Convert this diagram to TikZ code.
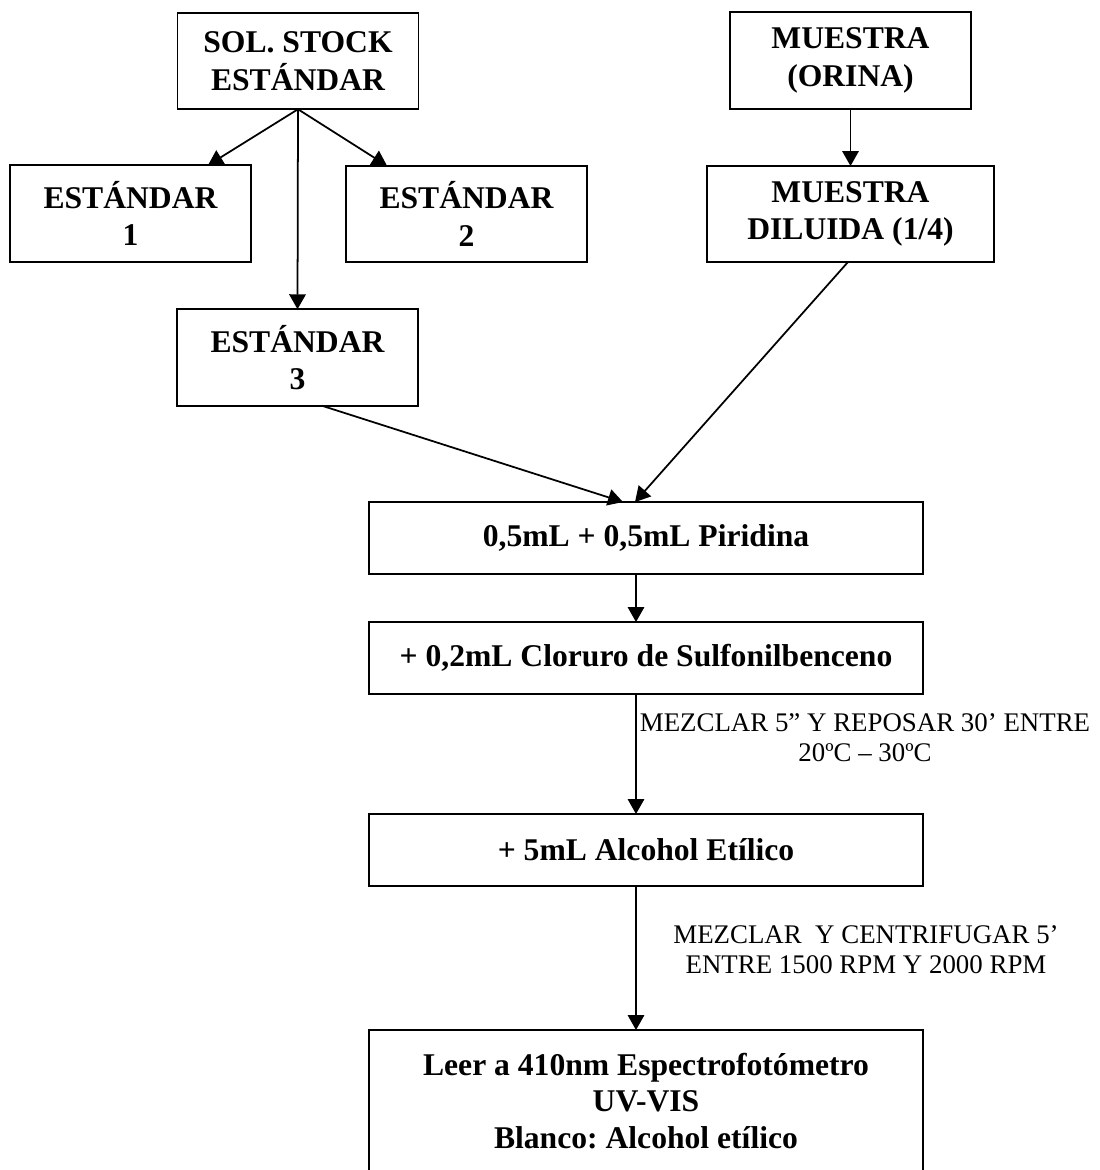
\documentclass[tikz,border=0pt]{standalone}
\usepackage{fontspec}
\setmainfont{Liberation Serif}
\usetikzlibrary{arrows.meta,positioning}
\frenchspacing

\begin{document}
\begin{tikzpicture}[x=0.02cm,y=-0.02cm,every node/.style={outer sep=0pt},line width=1pt,
 caja/.style={draw,line width=0.9pt,align=center,inner sep=0pt,
 font=\bfseries\fontsize{18}{21.5}\selectfont},
 cajaest/.style={caja,minimum width=4.82cm,minimum height=1.93cm},
 cajaproc/.style={caja,minimum width=11.08cm,minimum height=1.44cm},
 flecha/.style={-{Triangle[length=0.3cm,width=0.33cm]}},
 nota/.style={align=center,inner sep=0pt,font=\fontsize{15.3}{17}\selectfont}]

 \clip (0,0) rectangle (1099,1170);
 \fill[white] (0,0) rectangle (1099,1170);

  \node[cajaest] (stock) at (298,61) {SOL. STOCK\\ESTÁNDAR};
  \node[cajaest] (est1) at (130.5,213.5) {ESTÁNDAR\\1};
  \node[cajaest] (est2) at (466.5,214) {ESTÁNDAR\\2};
  \node[cajaest] (est3) at (297.5,357.5) {ESTÁNDAR\\3};

  \node[cajaest] (orina) at (850.5,60.5) {MUESTRA\\(ORINA)};
  \node[caja,minimum width=5.74cm,minimum height=1.92cm] (diluida) at (850.5,214) {MUESTRA\\DILUIDA (1/4)};

  \node[cajaproc] (piridina) at (646,538) {0,5mL + 0,5mL Piridina};
  \node[cajaproc] (cloruro) at (646,658) {+ 0,2mL Cloruro de Sulfonilbenceno};
  \node[cajaproc] (alcohol) at (646,850) {+ 5mL Alcohol Etílico};
  \node[caja,minimum width=11.08cm,minimum height=2.84cm,font=\bfseries\fontsize{18}{20.7}\selectfont] (leer) at (646,1101)
   {Leer a 410nm Espectrofotómetro\\UV-VIS\\Blanco: Alcohol etílico};


\draw [flecha] (stock.south) -- ([xshift=1.55cm]est1.north);
\draw [flecha] (stock.south) -- ([xshift=-1.59cm]est2.north);
\draw [flecha] (stock.south) -- (est3.north);
\draw [flecha] (orina.south) -- (diluida.north);

\draw [flecha] ([xshift=0.49cm]est3.south) -- ([xshift=-0.46cm]piridina.north);
\draw [flecha] ([xshift=-0.05cm]diluida.south) -- ([xshift=-0.22cm]piridina.north);

\draw [flecha] ([xshift=-0.2cm]piridina.south) -- ([xshift=-0.2cm]cloruro.north);
\draw [flecha] ([xshift=-0.2cm]cloruro.south) -- ([xshift=-0.2cm]alcohol.north);
\draw [flecha] ([xshift=-0.2cm]alcohol.south) -- ([xshift=-0.2cm]leer.north);

  \node[nota] (reposo) at (865,738) {MEZCLAR 5” Y REPOSAR 30’ ENTRE\\20ºC – 30ºC};
  \node[nota] (centri) at (866,950) {MEZCLAR\ \ Y CENTRIFUGAR 5’\\ENTRE 1500 RPM Y 2000 RPM};

\end{tikzpicture}
\end{document}
